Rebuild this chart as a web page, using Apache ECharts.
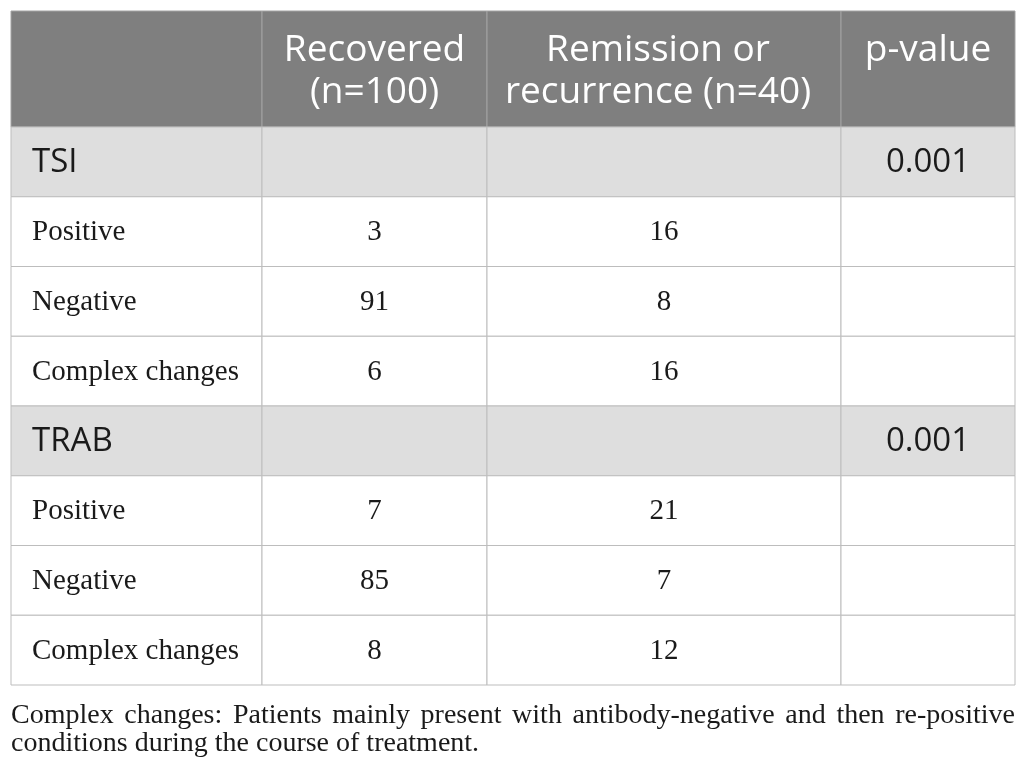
<!DOCTYPE html>
<html>
<head>
<meta charset="utf-8">
<script src="https://cdn.jsdelivr.net/npm/echarts@6/dist/echarts.min.js"></script>
<style>
  html, body { margin: 0; padding: 0; background: #fff; }
  #chart { width: 1026px; height: 773px; }
</style>
</head>
<body>
<div id="chart"></div>
<script>
// table content
const headers = ['', 'Recovered\n(n=100)', 'Remission or\nrecurrence (n=40)', 'p-value']
const markers = ['TSI', 'TRAB']
const pValues = ['0.001', '0.001']
const categories = ['Positive', 'Negative', 'Complex changes']
const recovered = [[3, 91, 6], [7, 85, 8]]
const remission = [[16, 8, 16], [21, 7, 12]]
const footnoteLines = [
  'Complex changes: Patients mainly present with antibody-negative and then re-positive',
  'conditions during the course of treatment.'
]

// layout (table units = px inside the grid)
const colEdges = [0, 251, 476, 830, 1004]
const headShift = [0, 0, -6, 0]
const headerH = 116
const rowH = 69.75
const tableH = headerH + rowH * 8

const SANS = '"Open Sans", "Noto Sans", sans-serif'
const SERIF = '"Liberation Serif", "DejaVu Serif", serif'

function rowTop (r) {
  return r === 0 ? 0 : headerH + (r - 1) * rowH
}

// build cell list: header, then marker row + category rows per marker
let cells = []
headers.forEach((h, c) => cells.push({ col: c, row: 0, kind: 'head', text: h }))
let r = 1
markers.forEach((m, i) => {
  cells.push({ col: 0, row: r, kind: 'section', text: m })
  cells.push({ col: 1, row: r, kind: 'section', text: '' })
  cells.push({ col: 2, row: r, kind: 'section', text: '' })
  cells.push({ col: 3, row: r, kind: 'section', text: pValues[i] })
  r++
  categories.forEach((cat, j) => {
    cells.push({ col: 0, row: r, kind: 'body', text: cat })
    cells.push({ col: 1, row: r, kind: 'body', text: String(recovered[i][j]) })
    cells.push({ col: 2, row: r, kind: 'body', text: String(remission[i][j]) })
    cells.push({ col: 3, row: r, kind: 'body', text: '' })
    r++
  })
})

const fills = { head: '#7f7f7f', section: '#dedede', body: '#ffffff' }
const strokes = { head: '#a3a3a3', section: '#bdbdbd', body: '#bdbdbd' }

function renderCell (params, api) {
  let cell = cells[params.dataIndex]
  let p0 = api.coord([colEdges[cell.col], rowTop(cell.row)])
  let p1 = api.coord([colEdges[cell.col + 1], rowTop(cell.row + 1)])
  let w = p1[0] - p0[0]
  let h = p1[1] - p0[1]
  let children = [{
    type: 'rect',
    shape: { x: p0[0], y: p0[1], width: w, height: h },
    style: { fill: fills[cell.kind], stroke: strokes[cell.kind], lineWidth: 1 }
  }]
  if (cell.text) {
    let leftCol = cell.col === 0
    let style = {
      text: cell.text,
      x: leftCol ? p0[0] + 21 : p0[0] + w / 2 + (cell.kind === 'head' ? headShift[cell.col] : 0),
      align: leftCol ? 'left' : 'center'
    }
    if (cell.kind === 'head') {
      Object.assign(style, {
        y: p0[1] + 18, verticalAlign: 'top', lineHeight: 42,
        font: '37px ' + SANS, fill: '#ffffff'
      })
    } else if (cell.kind === 'section') {
      Object.assign(style, {
        y: p0[1] + h / 2 + 1, verticalAlign: 'middle',
        font: '33px ' + SANS, fill: '#1a1a1a'
      })
    } else {
      Object.assign(style, {
        y: p0[1] + h / 2 + 1, verticalAlign: 'middle',
        font: '29px ' + SERIF, fill: '#1a1a1a'
      })
    }
    children.push({ type: 'text', style: style })
  }
  return { type: 'group', children: children }
}

// justified footnote (last line left aligned)
function buildFootnote () {
  let font = '28px ' + SERIF
  let ctx = document.createElement('canvas').getContext('2d')
  ctx.font = font
  let left = 11
  let width = 1004
  let items = []
  footnoteLines.forEach((line, i) => {
    let y = 716 + i * 28
    if (i === footnoteLines.length - 1) {
      items.push({ type: 'text', x: left, y: y, style: { text: line, font: font, fill: '#1a1a1a', verticalAlign: 'middle' } })
      return
    }
    let words = line.split(' ')
    let total = words.reduce((s, wd) => s + ctx.measureText(wd).width, 0)
    let gap = (width - total) / (words.length - 1)
    let x = left
    words.forEach((wd) => {
      items.push({ type: 'text', x: x, y: y, style: { text: wd, font: font, fill: '#1a1a1a', verticalAlign: 'middle' } })
      x += ctx.measureText(wd).width + gap
    })
  })
  return items
}

const chart = echarts.init(document.getElementById('chart'), null, { renderer: 'canvas' })
chart.setOption({
  animation: false,
  grid: { left: 11, top: 11, width: colEdges[colEdges.length - 1], height: tableH },
  xAxis: { type: 'value', min: 0, max: colEdges[colEdges.length - 1], show: false },
  yAxis: { type: 'value', min: 0, max: tableH, inverse: true, show: false },
  series: [{
    type: 'custom',
    coordinateSystem: 'cartesian2d',
    clip: false,
    data: cells.map((c) => [c.col, c.row]),
    renderItem: renderCell
  }],
  graphic: buildFootnote()
})
</script>
</body>
</html>
